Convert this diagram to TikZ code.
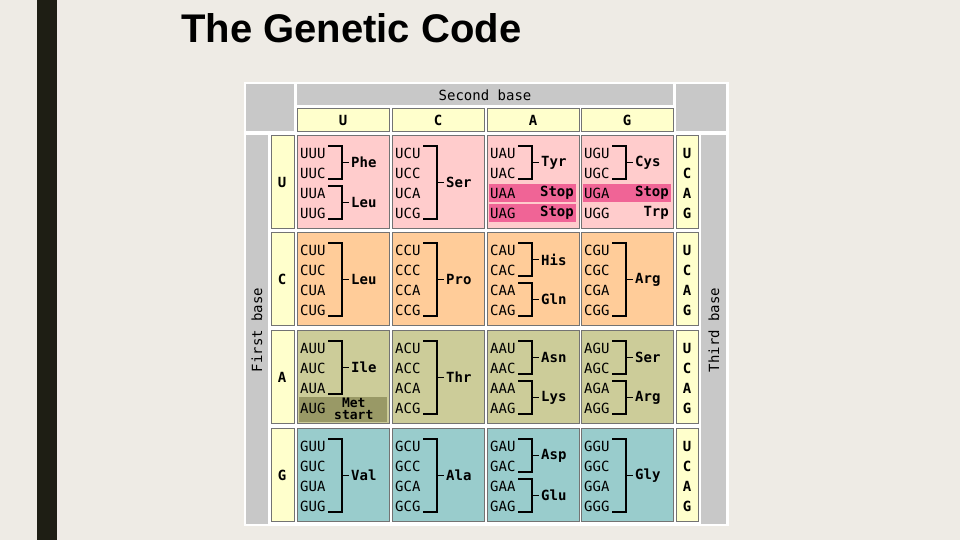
\documentclass[tikz,border=0pt]{standalone}
\usepackage{fontspec}
\setmainfont{Liberation Sans}
\newfontfamily\pix{DejaVu Sans Mono}
\definecolor{bg}{RGB}{238,235,229}
\definecolor{bar}{RGB}{30,30,20}
\definecolor{gr}{RGB}{200,200,200}
\definecolor{yl}{RGB}{255,255,204}
\definecolor{cU}{RGB}{255,204,204}
\definecolor{cC}{RGB}{255,204,153}
\definecolor{cA}{RGB}{204,204,153}
\definecolor{cG}{RGB}{153,204,204}
\definecolor{stp}{RGB}{240,100,150}
\definecolor{met}{RGB}{153,153,102}
\tikzset{
  cd/.style={anchor=west,inner sep=0pt,font=\pix\fontsize{14}{14}\selectfont},
  aa/.style={anchor=west,inner sep=0pt,font=\pix\bfseries\fontsize{14}{14}\selectfont},
  hd/.style={inner sep=0pt,font=\pix\bfseries\fontsize{14}{14}\selectfont},
  brk/.style={line width=1.6pt,black},
  cellbox/.style={draw=black!55,line width=0.8pt}
}
\newcommand\cx[1]{\ifcase#1 297\or 392\or 487\or 581\fi}
\newcommand\ry[1]{\ifcase#1 135\or 232\or 330\or 428\fi}
% group: col, row, firstline, lastline, label
\newcommand\grp[5]{%
  \pgfmathsetmacro\gx{\cx{#1}}\pgfmathsetmacro\gy{\ry{#2}}%
  \draw[brk] (\gx+31,\gy+#3*20+11) -- (\gx+45,\gy+#3*20+11) -- (\gx+45,\gy+#4*20+24) -- (\gx+31,\gy+#4*20+24);
  \draw[brk] (\gx+45,\gy+#3*10+#4*10+17.5) -- (\gx+52,\gy+#3*10+#4*10+17.5);
  \node[aa] at (\gx+54,\gy+#3*10+#4*10+17.5) {#5};}
\begin{document}
\begin{tikzpicture}[x=1pt,y=-1pt]
\useasboundingbox (0,0) rectangle (960,540);
\fill[bg] (0,0) rectangle (960,540);
\fill[bar] (37,0) rectangle (57,540);
\node[anchor=west,inner sep=0pt,font=\bfseries\fontsize{40}{40}\selectfont] (title) at (181,28) {The Genetic Code};
% table frame
\fill[white] (244,82) rectangle (729,526);
\fill[gr] (246,84) rectangle (294,131);
\fill[gr] (297,84) rectangle (673,105);
\fill[gr] (676,84) rectangle (726,131);
\fill[gr] (246,135) rectangle (268,524);
\fill[gr] (701,135) rectangle (726,524);
\node[inner sep=0pt,font=\pix\fontsize{14}{14}\selectfont] (sb) at (485,95) {Second base};
\node[inner sep=0pt,rotate=90,font=\pix\fontsize{14}{14}\selectfont] (fb) at (257,330) {First base};
\node[inner sep=0pt,rotate=90,font=\pix\fontsize{14}{14}\selectfont] (tb) at (714,330) {Third base};
\foreach \c/\b in {0/U,1/C,2/A,3/G}{
  \pgfmathsetmacro\xx{\cx{\c}}
  \fill[yl,cellbox] (\xx,108) rectangle (\xx+92,131);
  \node[hd] at (\xx+46,120) {\b};
}
\foreach \r/\f/\col in {0/U/cU,1/C/cC,2/A/cA,3/G/cG}{
  \pgfmathsetmacro\yy{\ry{\r}}
  \fill[yl,cellbox] (271,\yy) rectangle (294,\yy+93);
  \node[hd] at (282,\yy+47) {\f};
  \fill[yl,cellbox] (676,\yy) rectangle (698,\yy+93);
  \foreach \t/\i in {U/0,C/1,A/2,G/3}{\node[hd] at (687,\yy+18+\i*20) {\t};}
  \foreach \c/\s in {0/U,1/C,2/A,3/G}{
    \pgfmathsetmacro\xx{\cx{\c}}
    \fill[\col,cellbox] (\xx,\yy) rectangle (\xx+92,\yy+93);
  }
}
% highlights
\fill[stp] (489,184) rectangle (576,202);
\fill[stp] (489,204) rectangle (576,222);
\fill[stp] (583,184) rectangle (671,202);
\fill[met] (299,397) rectangle (387,422);
% codons
\foreach \r/\f in {0/U,1/C,2/A,3/G}{
  \foreach \c/\s in {0/U,1/C,2/A,3/G}{
    \foreach \t/\i in {U/0,C/1,A/2,G/3}{
      \pgfmathsetmacro\xx{\cx{\c}}\pgfmathsetmacro\yy{\ry{\r}}
      \node[cd] at (\xx+3,\yy+18+\i*20) {\f\s\t};
    }
  }
}
% groups
\grp{0}{0}{0}{1}{Phe}\grp{0}{0}{2}{3}{Leu}\grp{1}{0}{0}{3}{Ser}
\grp{2}{0}{0}{1}{Tyr}\grp{3}{0}{0}{1}{Cys}
\node[aa,anchor=east] at (574,193) {Stop};
\node[aa,anchor=east] at (574,213) {Stop};
\node[aa,anchor=east] at (669,193) {Stop};
\node[aa,anchor=east] at (669,213) {Trp};
\grp{0}{1}{0}{3}{Leu}\grp{1}{1}{0}{3}{Pro}\grp{2}{1}{0}{1}{His}\grp{2}{1}{2}{3}{Gln}\grp{3}{1}{0}{3}{Arg}
\grp{0}{2}{0}{2}{Ile}\grp{1}{2}{0}{3}{Thr}\grp{2}{2}{0}{1}{Asn}\grp{2}{2}{2}{3}{Lys}\grp{3}{2}{0}{1}{Ser}\grp{3}{2}{2}{3}{Arg}
\node[aa,font=\pix\bfseries\fontsize{13}{12}\selectfont,align=center] at (334,409) {Met\\start};
\grp{0}{3}{0}{3}{Val}\grp{1}{3}{0}{3}{Ala}\grp{2}{3}{0}{1}{Asp}\grp{2}{3}{2}{3}{Glu}\grp{3}{3}{0}{3}{Gly}
\end{tikzpicture}
\end{document}
